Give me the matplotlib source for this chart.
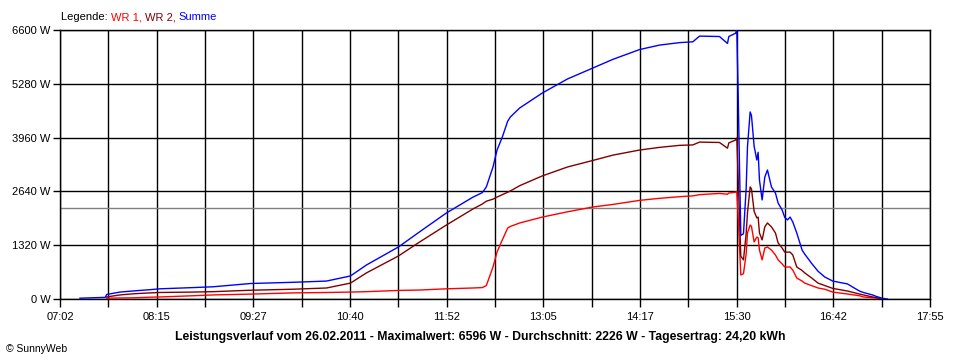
import numpy as np
import matplotlib
matplotlib.use("Agg")
import matplotlib.pyplot as plt

plt.rcParams['font.family'] = ['Liberation Sans', 'DejaVu Sans']

# readings from the chart (time, W)
times = ["07:17", "07:36", "07:37", "07:47", "07:58", "08:10", "08:17", "08:42",
         "08:57", "09:25", "09:57", "10:22", "10:40", "10:52", "11:16", "11:32",
         "11:52", "12:12", "12:19", "12:22", "12:27", "12:30", "12:34", "12:38",
         "12:40", "12:47", "13:04", "13:23", "13:42", "13:57", "14:17", "14:32",
         "14:47", "14:57", "15:02", "15:17", "15:23", "15:24", "15:29", "15:30",
         "15:31", "15:33", "15:35", "15:37", "15:38", "15:40", "15:41", "15:43",
         "15:45", "15:46", "15:47", "15:49", "15:51", "15:53", "15:56", "15:59",
         "16:01", "16:04", "16:06", "16:08", "16:10", "16:12", "16:15", "16:19",
         "16:21", "16:26", "16:31", "16:36", "16:42", "16:53", "17:02", "17:05",
         "17:12", "17:15", "17:19", "17:23"]
wr1 = [None, None, 20, 25, 30, 45, 50, 80,
       100, 120, 150, 160, 170, 180, 210, 220,
       250, 270, 280, 330, 785, 1150, 1450, 1740,
       1780, 1865, 2010, 2140, 2257, 2320, 2420, 2470,
       2510, 2530, 2560, 2590, 2570, 2600, 2620, 2640,
       2000, 590, 620, 1100, 1620, 1815, 1780, 1400,
       1520, 1500, 1200, 960, 1250, 1276, 1200, 1080,
       960, 860, 785, 785, 785, 710, 515, 440,
       390, 330, 270, 240, 170, 123, 80, 50,
       30, 25, 0, None]
wr2 = [None, None, 50, 100, 130, 150, 160, 170,
       180, 215, 240, 270, 390, 640, 1055, 1400,
       1815, 2210, 2330, 2400, 2450, 2500, 2560, 2620,
       2650, 2780, 3020, 3240, 3400, 3530, 3655, 3720,
       3770, 3780, 3850, 3840, 3700, 3830, 3900, 3950,
       2990, 1050, 960, 1600, 2110, 2750, 2700, 2150,
       1990, 2010, 1620, 1450, 1770, 1865, 1770, 1620,
       1375, 1250, 1150, 1150, 1150, 1080, 785, 700,
       640, 520, 390, 330, 260, 196, 123, 100,
       50, 30, 0, None]
summe = [20, 40, 110, 170, 200, 230, 250, 280,
         300, 380, 410, 440, 565, 834, 1276, 1650,
         2110, 2500, 2610, 2750, 3240, 3650, 3975, 4360,
         4465, 4686, 5054, 5400, 5668, 5880, 6120, 6230,
         6290, 6310, 6450, 6440, 6270, 6440, 6520, 6596,
         5050, 1560, 1600, 2700, 3730, 4590, 4500, 3750,
         3410, 3600, 2920, 2430, 2990, 3165, 2750, 2600,
         2355, 2185, 2000, 1940, 2010, 1890, 1620, 1200,
         1100, 880, 680, 540, 440, 370, 196, 160,
         98, 60, 20, 0]

average = 2226
x_labels = ["07:02", "08:15", "09:27", "10:40", "11:52", "13:05",
            "14:17", "15:30", "16:42", "17:55"]
y_ticks = [0, 1320, 2640, 3960, 5280, 6600]


def to_min(s):
    h, m = s.split(":")
    return int(h) * 60 + int(m)


t = np.array([to_min(s) for s in times])
t0, t1 = to_min(x_labels[0]), to_min(x_labels[-1])

fig = plt.figure(figsize=(9.6, 3.6), dpi=100)
ax = fig.add_axes([60 / 960, 61 / 360, 870 / 960, 269 / 360])

ax.axhline(average, color="#808080", lw=1.0, zorder=2)
ax.plot(t, np.array(wr1, dtype=float), color="#ff0000", lw=1.0, zorder=4)
ax.plot(t, np.array(wr2, dtype=float), color="#800000", lw=1.0, zorder=4)
ax.plot(t, np.array(summe, dtype=float), color="#0000ff", lw=1.0, zorder=5)

ax.set_xlim(t0, t1)
ax.set_ylim(0, 6600)

ax.set_xticks(np.linspace(t0, t1, len(x_labels)))
ax.set_xticklabels(x_labels)
ax.set_xticks(np.linspace(t0, t1, 2 * len(x_labels) - 1), minor=True)
ax.set_yticks(y_ticks)
ax.set_yticklabels([f"{v} W" for v in y_ticks])

ax.grid(True, which="both", axis="x", color="black", lw=1.0, zorder=1)
ax.grid(True, axis="y", color="black", lw=1.0, zorder=1)
ax.tick_params(which="both", axis="x", length=6, width=1.0, color="black",
               labelsize=8, pad=3)
ax.tick_params(axis="y", length=5, width=1.0, labelsize=8, pad=2)
for sp in ax.spines.values():
    sp.set_linewidth(1.0)
ax.set_axisbelow(True)

# legend line at top left
leg = fig.text(61 / 960, 1 - 17 / 360, "Legende: ", fontsize=8,
               color="black", va="center")
prev = leg
for txt, col in [("WR 1, ", "#ff0000"), ("WR 2, ", "#800000"), ("Summe", "#0000ff")]:
    prev = ax.annotate(txt, xy=(1, 0), xycoords=prev, va="bottom",
                       fontsize=8, color=col, annotation_clip=False)

fig.text(0.5, 1 - 337 / 360,
         "Leistungsverlauf vom 26.02.2011 - Maximalwert: 6596 W - "
         "Durchschnitt: 2226 W - Tagesertrag: 24,20 kWh",
         ha="center", va="center", fontsize=8.8, fontweight="bold")
fig.text(6 / 960, 1 - 349 / 360, "\u00a9 SunnyWeb", fontsize=7.5, va="center")

fig.savefig("out.png", dpi=100)
